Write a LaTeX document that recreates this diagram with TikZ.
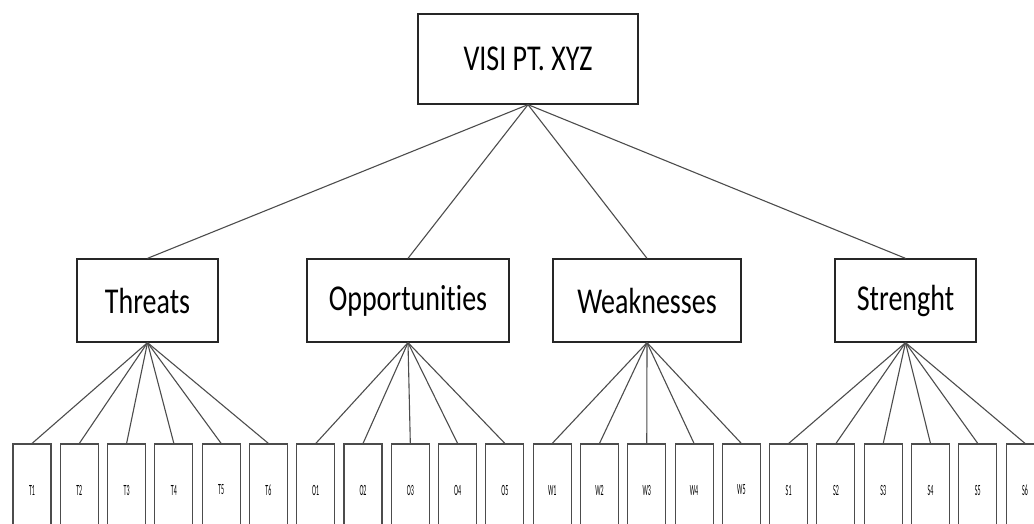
\documentclass[tikz,border=0pt]{standalone}
\usepackage{graphicx}
\usepackage{fontspec}
\setmainfont{Carlito}[Ligatures={NoCommon}]
\begin{document}
\begin{tikzpicture}[x=1pt,y=-1pt,
  box/.style={draw=black!85,line width=1.3pt,inner sep=0pt,fill=white,
    minimum height=83pt,font=\fontsize{28}{30}\selectfont},
  leaf/.style={draw=black!70,line width=1.1pt,inner sep=0pt,fill=white,
    minimum width=38pt,minimum height=92pt,font=\fontsize{6}{7}\selectfont},
  link/.style={draw=black!70,line width=1.1pt}]
\clip (0,0) rectangle (1034,524);
\node[box,minimum width=220pt,minimum height=90pt] (top) at (528,59) {\scalebox{1}[1.3]{VISI PT. XYZ}};
\node[box,minimum width=141pt] (thr) at (147.5,300.5) {\scalebox{1}[1.3]{Threats}};
\node[box,minimum width=202pt] (opp) at (408,300.5) {\scalebox{1}[1.3]{Opportunities}};
\node[box,minimum width=188pt] (wea) at (647,300.5) {\scalebox{1}[1.3]{Weaknesses}};
\node[box,minimum width=141pt] (str) at (905.5,300.5) {\scalebox{1}[1.3]{Strenght}};
\foreach \lab [count=\k from 0] in {T1,T2,T3,T4,T5,T6,O1,O2,O3,O4,O5,W1,W2,W3,W4,W5,S1,S2,S3,S4,S5,S6}
  \node[leaf] (\lab) at ({32+47.29*\k},490) {\scalebox{1}[2.6]{\lab}};
\foreach \m in {thr,opp,wea,str}
  \draw[link] (top.south) -- (\m.north);
\foreach \c in {T1,T2,T3,T4,T5,T6}
  \draw[link] (thr.south) -- (\c.north);
\foreach \c in {O1,O2,O3,O4,O5}
  \draw[link] (opp.south) -- (\c.north);
\foreach \c in {W1,W2,W3,W4,W5}
  \draw[link] (wea.south) -- (\c.north);
\foreach \c in {S1,S2,S3,S4,S5,S6}
  \draw[link] (str.south) -- (\c.north);
\end{tikzpicture}
\end{document}
